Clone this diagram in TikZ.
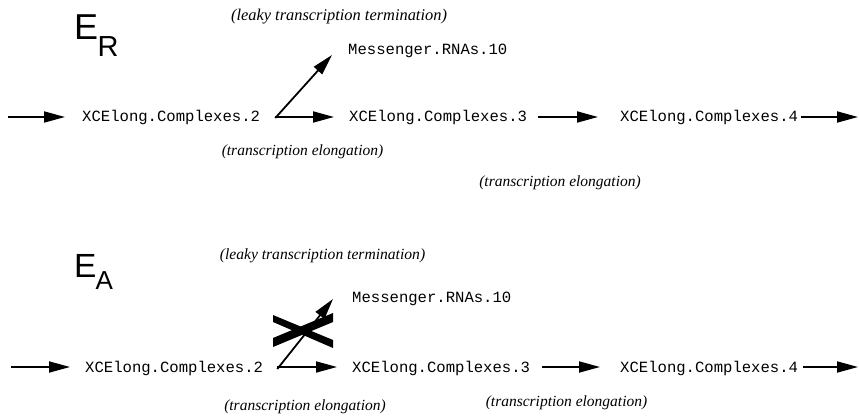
\documentclass[tikz,border=0pt]{standalone}
\usepackage{fontspec}
\setmainfont{Liberation Serif}
\newfontfamily\monof{Liberation Mono}
\newfontfamily\sansf{Liberation Sans}
\usetikzlibrary{arrows.meta}
\tikzset{
  mono/.style={font=\monof\fontsize{15.6}{18}\selectfont, inner sep=0pt, text height=10pt, text depth=0pt, anchor=west},
  lbl/.style={font=\itshape\fontsize{#1}{18}\selectfont, inner sep=0pt},
  arr/.style={line width=1.8pt, -{Triangle[length=21pt,width=11pt]}},
  crossfill/.style={fill=black},
}
\begin{document}
\begin{tikzpicture}[x=1pt,y=-1pt]
\useasboundingbox (0,0) rectangle (859,417);
% ---------- top (E_R) ----------
\node[inner sep=0pt, anchor=base west, font=\sansf] (er) at (74,40)
  {\fontsize{36}{40}\selectfont E\kern-0.5pt\raisebox{-17pt}{\fontsize{29}{32}\selectfont R}};
\node[lbl=16.4] (leak1) at (339,17) {(leaky transcription termination)};
\node[mono] (c2) at (82,117) {XCElong.Complexes.2};
\node[mono] (c3) at (349,117) {XCElong.Complexes.3};
\node[mono] (c4) at (620,117) {XCElong.Complexes.4};
\node[mono] (m1) at (348,50) {Messenger.RNAs.10};
\node[lbl=15.5] (el1) at (302.5,152) {(transcription elongation)};
\node[lbl=15.5] (el2) at (560,183) {(transcription elongation)};
\coordinate (in1) at (8,117);
\coordinate (out1) at (858,117);
\coordinate (f1) at ([xshift=15pt]c2.east);
\draw[arr] (in1) -- ([xshift=-17pt]c2.west);
\draw[arr] (f1) -- ([xshift=-15pt]c3.west);
\draw[arr] ([yshift=-1pt]f1) -- ([xshift=-16pt,yshift=-5pt]m1.west);
\draw[arr] ([xshift=11pt]c3.east) -- ([xshift=-22pt]c4.west);
\draw[arr] ([xshift=3pt]c4.east) -- (out1);
% ---------- bottom (E_A) ----------
\node[inner sep=0pt, anchor=base west, font=\sansf] (ea) at (74,277)
  {\fontsize{33.5}{38}\selectfont E\kern-1pt\raisebox{-12pt}{\fontsize{26}{30}\selectfont A}};
\node[lbl=15.6] (leak2) at (322.5,256) {(leaky transcription termination)};
\node[mono] (d2) at (85,367) {XCElong.Complexes.2};
\node[mono] (d3) at (352,367) {XCElong.Complexes.3};
\node[mono] (d4) at (620,367) {XCElong.Complexes.4};
\node[mono] (m2) at (352,297) {Messenger.RNAs.10};
\node[lbl=15.5] (el3) at (305,407) {(transcription elongation)};
\node[lbl=15.5] (el4) at (566.5,403) {(transcription elongation)};
\coordinate (in2) at (11,367);
\coordinate (out2) at (858,367);
\coordinate (f2) at ([xshift=14pt]d2.east);
\draw[arr] (in2) -- ([xshift=-15pt]d2.west);
\draw[arr] (f2) -- ([xshift=-15pt]d3.west);
\draw[arr] ([yshift=-2pt]f2) -- ([xshift=-19pt,yshift=-2pt]m2.west);
\draw[arr] ([xshift=12pt]d3.east) -- ([xshift=-20pt]d4.west);
\draw[arr] ([xshift=5pt]d4.east) -- (out2);
% blocking cross
\fill[crossfill] (273,315) -- (333,340) -- (333,348) -- (273,322) -- cycle;
\fill[crossfill] (273,338) -- (273,347) -- (333,322) -- (333,313) -- cycle;
\end{tikzpicture}
\end{document}
